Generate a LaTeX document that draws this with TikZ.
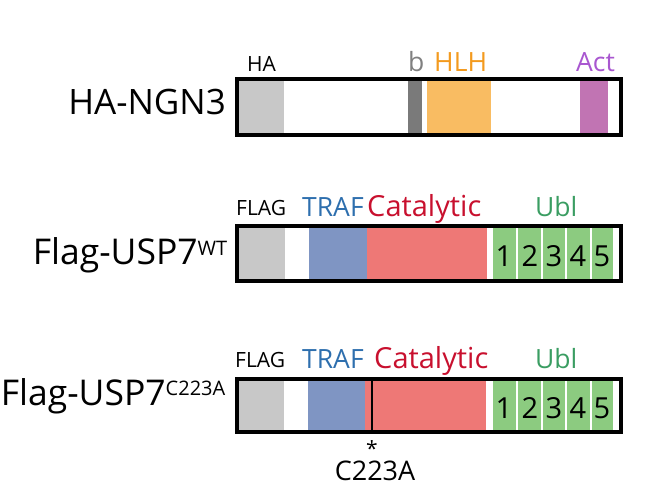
\documentclass[tikz,border=0pt]{standalone}
\usepackage{fontspec}
\setmainfont{Open Sans}
\definecolor{cgray}{HTML}{C8C8C8}
\definecolor{cdgray}{HTML}{7A7A7A}
\definecolor{corange}{HTML}{F9BC62}
\definecolor{cpurple}{HTML}{C174B3}
\definecolor{cblue}{HTML}{7F95C3}
\definecolor{cred}{HTML}{EE7876}
\definecolor{cgreen}{HTML}{8CCB80}
\definecolor{tgray}{HTML}{808080}
\definecolor{torange}{HTML}{F39A1E}
\definecolor{tpurple}{HTML}{A957D0}
\definecolor{tblue}{HTML}{2E6FAE}
\definecolor{tred}{HTML}{C8102E}
\definecolor{tgreen}{HTML}{3A9D62}
\newcommand{\fsz}[1]{\fontsize{#1}{#1}\selectfont}
\begin{document}
\begin{tikzpicture}[x=1pt,y=-1pt,
  lbl/.style={inner sep=0pt, anchor=base west},
  protname/.style={inner sep=0pt, anchor=base east, font=\fsz{35.5}},
  dom/.style={lbl, font=\fsz{26.5}},
  tag/.style={lbl, font=\fsz{21}},
  num/.style={inner sep=0pt, anchor=base, font=\fsz{29}},
  outline/.style={draw=black, line width=4pt}]
\useasboundingbox (0,0) rectangle (651,497);

% ---------- Row 1: HA-NGN3 ----------
\fill[cgray] (239,81) rectangle (284,133);
\fill[cdgray] (408,81) rectangle (422,133);
\fill[corange] (427,81) rectangle (491,133);
\fill[cpurple] (580,81) rectangle (608,133);
\draw[outline] (237,79) rectangle (621,135);
\node[protname, font=\fsz{35}] (n1) at (226,115) {HA-NGN3};
\node[tag] (ha) at (247,72) {HA};
\node[dom, text=tgray] (b) at (408,72) {b};
\node[dom, text=torange] (hlh) at (434,72) {HLH};
\node[dom, text=tpurple] (act) at (576,72) {Act};

% ---------- Row 2: Flag-USP7 WT ----------
\fill[cgray] (239,228) rectangle (285,279);
\fill[cblue] (309,228) rectangle (367,279);
\fill[cred] (367,228) rectangle (487,279);
\foreach \a/\b in {493/516,518/541,543/565,567/590,592/613}
  \fill[cgreen] (\a,228) rectangle (\b,279);
\draw[outline] (237,226) rectangle (621,281);
\node[protname] (n2) at (228,265) {Flag-USP7\textsuperscript{\fsz{20}WT}};
\node[tag] (flag2) at (236,216) {FLAG};
\node[dom, text=tblue] (traf2) at (302,217) {TRAF};
\node[dom, text=tred, font=\fsz{29}] (cat2) at (367,217) {Catalytic};
\node[dom, text=tgreen] (ubl2) at (535,217) {Ubl};
\node[num] (a1) at (504,267) {1};
\node[num] (a2) at (530,267) {2};
\node[num] (a3) at (554,267) {3};
\node[num] (a4) at (578,267) {4};
\node[num] (a5) at (602,267) {5};

% ---------- Row 3: Flag-USP7 C223A ----------
\fill[cgray] (239,381) rectangle (284,430);
\fill[cblue] (308,381) rectangle (365,430);
\fill[cred] (365,381) rectangle (486,430);
\foreach \a/\b in {493/516,518/541,543/565,567/590,592/613}
  \fill[cgreen] (\a,381) rectangle (\b,430);
\draw[black, line width=2pt] (372,381) -- (372,430);
\draw[outline] (237,379) rectangle (621,432);
\node[protname] (n3) at (226,405) {Flag-USP7\textsuperscript{\fsz{20}C223A}};
\node[tag] (flag3) at (235,367) {FLAG};
\node[dom, text=tblue] (traf3) at (302,368) {TRAF};
\node[dom, text=tred, font=\fsz{29}] (cat3) at (374,368) {Catalytic};
\node[dom, text=tgreen] (ubl3) at (535,368) {Ubl};
\node[num] (b1) at (504,418) {1};
\node[num] (b2) at (530,418) {2};
\node[num] (b3) at (554,418) {3};
\node[num] (b4) at (578,418) {4};
\node[num] (b5) at (602,418) {5};
\node[inner sep=0pt, anchor=base, font=\fsz{21}] (ast) at (372,447) {\raisebox{-9pt}[7pt][0pt]{*}};
\node[inner sep=0pt, anchor=base, font=\fsz{27}] (mut) at (375,480) {C223A};
\end{tikzpicture}
\end{document}
